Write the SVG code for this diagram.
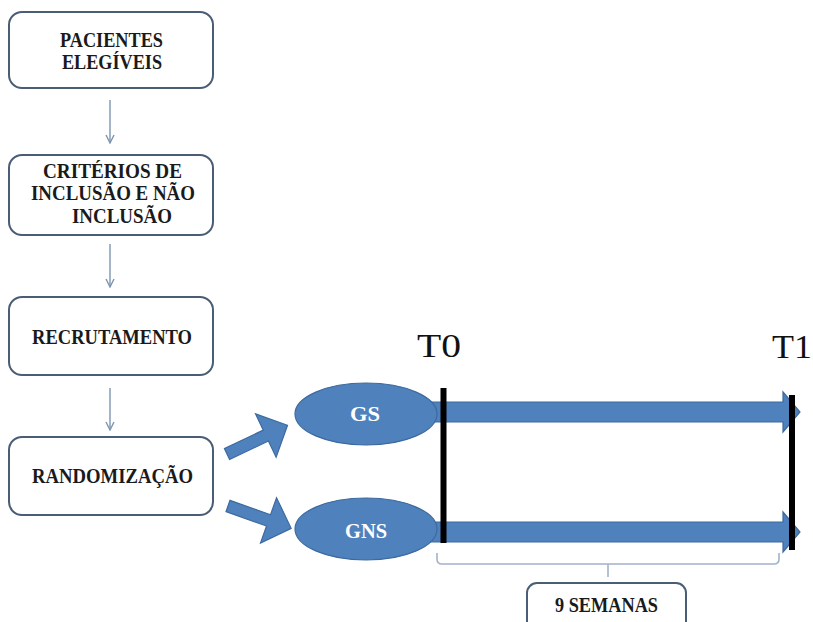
<svg xmlns="http://www.w3.org/2000/svg" width="813" height="622" viewBox="0 0 813 622">
<style>
.box{fill:#fff;stroke:#4a5d75;stroke-width:2}
.bt{font-family:"Liberation Serif","Times New Roman",serif;font-weight:bold;font-size:20px;fill:#1a1a1a}
.et{font-family:"Liberation Serif","Times New Roman",serif;font-weight:bold;font-size:20px;fill:#fff}
.tt{font-family:"Liberation Serif","Times New Roman",serif;font-size:34px;fill:#111}
.conn{stroke:#7d95b3;stroke-width:1.4;fill:none}
.blue{fill:#4f81bd;stroke:#3d6a9e;stroke-width:1.2}
.brace{stroke:#a2b3c9;stroke-width:1.6;fill:none}
</style>
<defs>
<marker id="v" viewBox="0 0 10 10" refX="9" refY="5" markerWidth="10" markerHeight="10" markerUnits="userSpaceOnUse" orient="auto">
<path d="M1,1 L9,5 L1,9" fill="none" stroke="#7d95b3" stroke-width="1.4"/>
</marker>
<path id="blk" d="M0,-6 L43,-6 L43,-24 L67,0 L43,24 L43,6 L0,6 Z"/>
</defs>
<rect width="813" height="622" fill="#fff"/>
<g id="connectors">
<line class="conn" x1="110" y1="100" x2="110" y2="143" marker-end="url(#v)"/>
<line class="conn" x1="110" y1="244" x2="110" y2="287" marker-end="url(#v)"/>
<line class="conn" x1="110" y1="388" x2="110" y2="430" marker-end="url(#v)"/>
<use href="#blk" class="blue" transform="translate(227,454) rotate(-25.4)"/>
<use href="#blk" class="blue" transform="translate(228,506) rotate(19.5)"/>
<path class="blue" d="M430,402 H783 V392 L800,412 L783,432 V422 H430 Z"/>
<path class="blue" d="M430,522 H783 V512 L800,532 L783,552 V542 H430 Z"/>
<path class="brace" d="M437,553 V559 Q437,564 442,564 H774 Q779,564 779,559 V553 M608,564 V577"/>
</g>
<g id="n1"><rect class="box" x="9" y="12" width="204" height="76" rx="13"/>
<text class="bt" x="60" y="47" textLength="103" lengthAdjust="spacingAndGlyphs">PACIENTES</text>
<text class="bt" x="62" y="69" textLength="100" lengthAdjust="spacingAndGlyphs">ELEGÍVEIS</text></g>
<g id="n2"><rect class="box" x="9" y="155" width="204" height="80" rx="13"/>
<text class="bt" x="43" y="178" textLength="139" lengthAdjust="spacingAndGlyphs">CRITÉRIOS  DE</text>
<text class="bt" x="31" y="200" textLength="164" lengthAdjust="spacingAndGlyphs">INCLUSÃO  E NÃO</text>
<text class="bt" x="72" y="223" textLength="100" lengthAdjust="spacingAndGlyphs">INCLUSÃO</text></g>
<g id="n3"><rect class="box" x="9" y="297" width="204" height="78" rx="13"/>
<text class="bt" x="32" y="344" textLength="160" lengthAdjust="spacingAndGlyphs">RECRUTAMENTO</text></g>
<g id="n4"><rect class="box" x="9" y="437" width="204" height="78" rx="13"/>
<text class="bt" x="32" y="483" textLength="161" lengthAdjust="spacingAndGlyphs">RANDOMIZAÇÃO</text></g>
<g id="gs"><ellipse class="blue" cx="366" cy="414" rx="71" ry="31"/>
<text class="et" x="350" y="421" textLength="30" lengthAdjust="spacingAndGlyphs">GS</text></g>
<g id="gns"><ellipse class="blue" cx="366" cy="529" rx="71" ry="31"/>
<text class="et" x="345" y="538" textLength="42" lengthAdjust="spacingAndGlyphs">GNS</text></g>
<g id="t0"><rect x="440.5" y="388" width="6" height="155" fill="#000"/>
<text class="tt" x="417" y="357" textLength="44" lengthAdjust="spacingAndGlyphs">T0</text></g>
<g id="t1"><rect x="789" y="395" width="6" height="155" fill="#000"/>
<text class="tt" x="772" y="358" textLength="40" lengthAdjust="spacingAndGlyphs">T1</text></g>
<g id="semanas"><rect class="box" x="527" y="583" width="159" height="50" rx="10"/>
<text class="bt" x="555" y="612" textLength="103" lengthAdjust="spacingAndGlyphs">9 SEMANAS</text></g>
</svg>
